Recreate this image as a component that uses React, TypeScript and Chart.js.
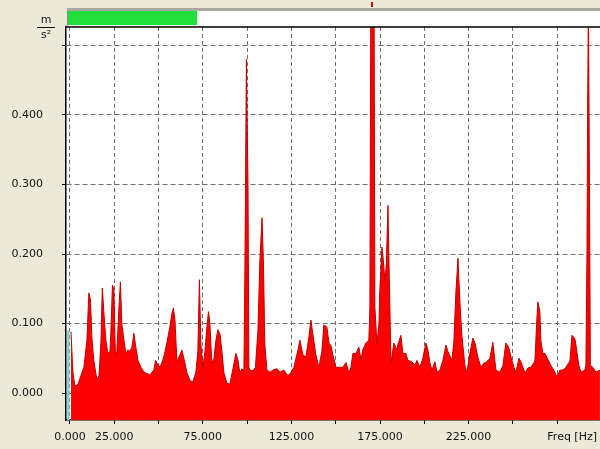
import React, { useEffect, useRef } from 'react';
import { Chart, registerables } from 'chart.js';

Chart.register(...registerables);

// Spectrum bins: frequency [Hz] and acceleration [m/s²]
const freqHz = [
  0.6, 1.7, 2.8, 4.5, 6.2, 7.9, 9.6, 10.7, 11.6, 12.4, 13.5, 15.2, 16.4, 17.5, 18.3, 19.2, 20.3, 21.4, 22.6, 23.1,
  24.0, 24.8, 25.7, 26.5, 27.7, 28.5, 29.3, 30.5, 31.6, 32.7, 33.9, 35.0, 36.1, 37.2, 38.4, 40.1, 41.8, 43.5, 45.1, 46.3,
  47.4, 48.3, 49.1, 50.2, 51.4, 53.0, 54.7, 56.4, 57.6, 58.4, 59.3, 60.4, 62.1, 63.2, 64.3, 66.0, 67.7, 69.4, 71.1, 72.2,
  73.1, 73.9, 75.1, 76.2, 77.3, 78.2, 79.0, 80.1, 81.3, 82.4, 83.5, 84.7, 85.8, 86.9, 88.6, 90.3, 92.0, 93.7, 94.8, 95.9,
  97.1, 98.2, 98.8, 99.6, 100.5, 101.0, 101.6, 103.3, 104.7, 106.1, 107.2, 108.4, 109.2, 110.0, 111.2, 112.9, 114.6, 116.8, 118.5, 120.8,
  123.0, 124.7, 126.4, 128.7, 129.8, 131.5, 133.2, 134.9, 136.0, 137.1, 138.8, 140.5, 142.2, 143.3, 145.0, 146.2, 147.3, 148.4, 150.1, 151.8,
  154.1, 155.8, 157.4, 158.6, 159.7, 161.4, 163.1, 164.2, 165.3, 167.0, 168.7, 169.3, 169.9, 171.6, 172.1, 173.3, 174.4, 174.9, 176.1, 176.9,
  177.8, 178.6, 179.5, 180.0, 181.2, 182.8, 184.5, 185.1, 186.8, 187.9, 189.6, 190.7, 193.0, 194.7, 195.8, 197.5, 199.2, 200.9, 202.0, 203.2,
  204.3, 206.0, 207.1, 208.8, 210.5, 212.2, 213.3, 215.6, 216.7, 217.8, 219.0, 220.1, 221.2, 222.9, 224.0, 225.7, 227.4, 228.6, 230.2, 231.9,
  233.6, 235.3, 237.0, 238.7, 240.4, 242.7, 244.4, 246.0, 247.7, 248.9, 250.6, 251.7, 253.4, 254.5, 256.8, 258.5, 260.2, 262.4, 263.5, 264.1,
  265.2, 265.8, 266.9, 268.1, 269.8, 271.4, 273.7, 274.8, 276.5, 278.2, 279.9, 282.2, 283.3, 285.0, 285.6, 287.2, 288.4, 290.6, 291.2, 291.8,
  292.2, 292.6, 293.2, 293.7, 295.1, 296.8, 299.1,
];
const accel = [
  0.088, 0.03, 0.01, 0.012, 0.025, 0.037, 0.076, 0.144, 0.134, 0.08, 0.047, 0.019, 0.025, 0.072, 0.151, 0.115, 0.076, 0.057, 0.06, 0.086,
  0.155, 0.15, 0.052, 0.06, 0.124, 0.16, 0.1, 0.076, 0.057, 0.062, 0.06, 0.066, 0.086, 0.066, 0.047, 0.037, 0.03, 0.028, 0.026, 0.03,
  0.033, 0.047, 0.043, 0.038, 0.04, 0.052, 0.072, 0.095, 0.115, 0.122, 0.105, 0.045, 0.055, 0.062, 0.05, 0.03, 0.018, 0.016, 0.03, 0.06,
  0.163, 0.07, 0.037, 0.06, 0.095, 0.117, 0.1, 0.043, 0.05, 0.076, 0.091, 0.085, 0.06, 0.029, 0.014, 0.013, 0.035, 0.057, 0.048, 0.029,
  0.035, 0.032, 0.19, 0.48, 0.30, 0.037, 0.033, 0.032, 0.037, 0.09, 0.19, 0.252, 0.19, 0.07, 0.033, 0.03, 0.033, 0.035, 0.03, 0.033,
  0.025, 0.029, 0.037, 0.062, 0.076, 0.055, 0.052, 0.081, 0.105, 0.085, 0.055, 0.037, 0.06, 0.098, 0.095, 0.072, 0.068, 0.055, 0.037, 0.037,
  0.037, 0.044, 0.029, 0.037, 0.057, 0.057, 0.066, 0.048, 0.062, 0.072, 0.076, 0.124, 0.65, 0.65, 0.124, 0.07, 0.1, 0.148, 0.21, 0.19,
  0.16, 0.187, 0.27, 0.196, 0.043, 0.072, 0.062, 0.07, 0.083, 0.057, 0.057, 0.047, 0.045, 0.04, 0.047, 0.037, 0.05, 0.072, 0.062, 0.043,
  0.033, 0.045, 0.03, 0.033, 0.047, 0.069, 0.06, 0.047, 0.075, 0.144, 0.194, 0.13, 0.083, 0.04, 0.029, 0.057, 0.079, 0.072, 0.052, 0.037,
  0.043, 0.045, 0.05, 0.073, 0.033, 0.03, 0.04, 0.072, 0.065, 0.052, 0.037, 0.03, 0.05, 0.045, 0.029, 0.036, 0.037, 0.046, 0.105, 0.131,
  0.118, 0.075, 0.057, 0.057, 0.048, 0.04, 0.03, 0.023, 0.033, 0.033, 0.037, 0.046, 0.083, 0.078, 0.068, 0.04, 0.03, 0.033, 0.04, 0.2,
  0.42, 0.56, 0.306, 0.04, 0.037, 0.03, 0.033,
];

// DC component (drawn in cyan)
const dcFreq = [-0.9, -0.9];
const dcAccel = [-0.05, 0.09];

const xTicks = [0, 25, 50, 75, 100, 125, 150, 175, 200, 225, 250, 275];
const xTickLabels = ['0.000', '25.000', '', '75.000', '', '125.000', '', '175.000', '', '225.000', '', ''];
const yTicks = [0, 0.1, 0.2, 0.3, 0.4, 0.5];
const yTickLabels = ['0.000', '0.100', '0.200', '0.300', '0.400', ''];
const xAxisTitle = 'Freq [Hz]';
const unitNumerator = 'm';
const unitDenominator = 's²';

const FONT = '"DejaVu Sans", Verdana, sans-serif';

const decorPlugin = {
  id: 'decor',
  beforeDraw(chart: any) {
    const { ctx, chartArea: a } = chart;
    ctx.save();
    ctx.fillStyle = '#ECE9D8';
    ctx.fillRect(0, 0, chart.width, chart.height);
    ctx.fillStyle = '#ffffff';
    ctx.fillRect(a.left, a.top, a.right - a.left, a.bottom - a.top);
    // status bar above the plot
    ctx.fillStyle = '#a9a8a0';
    ctx.fillRect(67, 8, 533, 3);
    ctx.fillStyle = '#ffffff';
    ctx.fillRect(67, 11, 533, 15);
    ctx.fillStyle = '#8a8a84';
    ctx.fillRect(67, 11, 1, 15);
    ctx.fillStyle = '#22e03c';
    ctx.fillRect(68, 11, 129, 14);
    // cursor marker
    ctx.fillStyle = '#e00000';
    ctx.fillRect(371, 2, 2, 5);
    ctx.restore();
  },
  afterDraw(chart: any) {
    const { ctx, chartArea: a } = chart;
    ctx.save();
    // top border
    ctx.strokeStyle = '#000';
    ctx.lineWidth = 1.5;
    ctx.beginPath();
    ctx.moveTo(a.left - 1, a.top);
    ctx.lineTo(a.right, a.top);
    ctx.stroke();
    // unit label
    ctx.fillStyle = '#111';
    ctx.font = '11px ' + FONT;
    ctx.textAlign = 'center';
    ctx.textBaseline = 'alphabetic';
    ctx.fillText(unitNumerator, 46, 23);
    ctx.fillText(unitDenominator, 46, 38);
    ctx.strokeStyle = '#111';
    ctx.lineWidth = 1;
    ctx.beginPath();
    ctx.moveTo(37, 27.5);
    ctx.lineTo(55, 27.5);
    ctx.stroke();
    // x axis title
    ctx.font = '11px ' + FONT;
    ctx.textAlign = 'right';
    ctx.textBaseline = 'top';
    ctx.fillText(xAxisTitle, 597, 432);
    ctx.restore();
  },
};

export default function App() {
  const canvasRef = useRef<HTMLCanvasElement | null>(null);

  useEffect(() => {
    const canvas = canvasRef.current;
    if (!canvas) return;
    const chart = new Chart(canvas, {
      type: 'line',
      data: {
        datasets: [
          {
            data: freqHz.map((f, i) => ({ x: f, y: accel[i] })),
            borderColor: '#c40000',
            borderWidth: 1,
            backgroundColor: '#ff0000',
            fill: 'start',
            pointRadius: 0,
            tension: 0,
          },
          {
            data: dcFreq.map((f, i) => ({ x: f, y: dcAccel[i] })),
            borderColor: '#7fd4d4',
            borderWidth: 2.5,
            fill: false,
            pointRadius: 0,
          },
        ],
      },
      options: {
        responsive: false,
        animation: false,
        devicePixelRatio: 1,
        layout: { padding: { top: 27, left: 0, right: 0, bottom: 0 } },
        plugins: { legend: { display: false }, tooltip: { enabled: false } },
        scales: {
          x: {
            type: 'linear',
            min: -2.2,
            max: 299.15,
            afterFit: (s: any) => { s.height = 29; },
            afterBuildTicks: (s: any) => { s.ticks = xTicks.map((v) => ({ value: v })); },
            ticks: {
              autoSkip: false,
              maxRotation: 0,
              padding: 7,
              color: '#111',
              font: { family: FONT, size: 11 },
              callback: (_v: any, i: number) => xTickLabels[i],
            },
            grid: { color: '#6e6e6e', lineWidth: 1, tickColor: '#000', tickLength: 4, tickBorderDash: [] },
            border: { display: true, color: '#000', width: 1.5, dash: [4, 3] },
          },
          y: {
            type: 'linear',
            min: -0.0388,
            max: 0.5266,
            afterFit: (s: any) => { s.width = 66; },
            afterBuildTicks: (s: any) => { s.ticks = yTicks.map((v) => ({ value: v })); },
            ticks: {
              autoSkip: false,
              padding: 19,
              color: '#111',
              font: { family: FONT, size: 11 },
              callback: (_v: any, i: number) => yTickLabels[i],
            },
            grid: { color: '#6e6e6e', lineWidth: 1, tickColor: '#000', tickLength: 4, tickBorderDash: [] },
            border: { display: true, color: '#000', width: 1.5, dash: [5, 3] },
          },
        },
      },
      plugins: [decorPlugin],
    });
    return () => chart.destroy();
  }, []);

  return (
    <div style={{ position: 'fixed', left: 0, top: 0, width: 600, height: 449, background: '#ECE9D8' }}>
      <canvas ref={canvasRef} width={600} height={449} style={{ display: 'block', width: 600, height: 449 }} />
    </div>
  );
}
